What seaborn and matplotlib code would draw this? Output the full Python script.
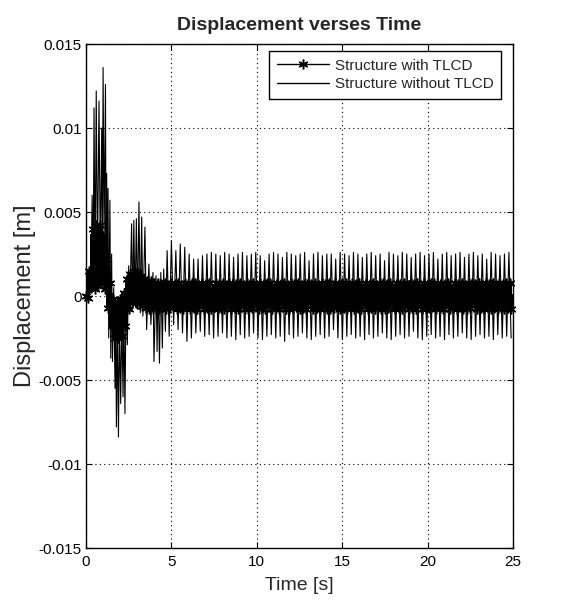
#Displacement of structure with and without TLCD
import numpy as np
import pandas as pd
import seaborn as sns
import matplotlib.pyplot as plt

# values, displacement in units of 1e-4 m

# structure without TLCD - transient part (times of peaks / troughs)
free_t_start = [0.00, 0.08, 0.14, 0.22, 0.28, 0.36, 0.42, 0.47, 0.53, 0.60, 0.67, 0.76, 0.84, 0.92,
                0.96, 1.00, 1.06, 1.14, 1.17, 1.21, 1.25, 1.29, 1.33, 1.40, 1.45, 1.50, 1.55, 1.62,
                1.70, 1.74, 1.78, 1.84, 1.90, 1.96, 2.03, 2.10, 2.17, 2.22, 2.28, 2.35, 2.42, 2.50,
                2.56, 2.67, 2.73, 2.80, 2.87, 2.95, 3.02, 3.10, 3.18, 3.26, 3.33, 3.45, 3.55, 3.68,
                3.80, 3.92, 3.98, 4.10, 4.16, 4.22, 4.30, 4.38, 4.47, 4.55, 4.65, 4.75, 4.87]
free_v_start = [0, 4, -2, 15, 2, 60, 8, 112, 12, 122, 18, 116, 22, 100,
                30, 136, 35, 126, 25, 73, 5, 64, -25, 57, -37, 25, -39, 5,
                -55, -10, -78, -15, -84, -15, -64, -12, -60, -8, -70, 5, -29, 18,
                -10, 43, -8, 45, -5, 46, -8, 56, -10, 47, -12, 41, -20, 19,
                -17, 14, -39, 12, -33, 10, -40, 14, -31, 16, -21, 27, -24]

# structure without TLCD - steady part, one peak and one trough per period
free_t0 = 5.0
free_period = 0.26
free_peaks = [33, 27, 31, 29, 25, 22, 22, 24, 25, 26, 25, 24, 26, 25, 23, 25, 26, 24, 25, 26,
              24, 21, 25, 26, 25, 23, 26, 25, 24, 25, 26, 21, 25, 26, 24, 25, 25, 22, 26, 25,
              24, 26, 25, 23, 25, 26, 24, 25, 21, 26, 25, 24, 26, 25, 23, 25, 26, 24, 25, 26,
              22, 25, 26, 24, 25, 26, 23, 25, 26, 24, 25, 22, 26, 25, 24, 25, 26]
free_troughs = [-17, -20, -22, -27, -25, -22, -21, -24, -23, -25, -24, -22, -25, -24, -26, -23, -25, -24, -22, -25,
                -26, -24, -23, -25, -24, -27, -23, -25, -24, -22, -25, -26, -24, -23, -25, -24, -20, -25, -26, -24,
                -23, -25, -24, -26, -23, -25, -24, -22, -25, -26, -24, -23, -25, -24, -21, -25, -26, -24, -23, -25,
                -24, -26, -23, -25, -24, -22, -25, -26, -24, -23, -25, -24, -26, -23, -25, -24, -25]

# structure with TLCD - upper / lower points of the dense band, every 0.2 s
tlcd_step = 0.2
tlcd_upper = [0, 15, 40, 42, 42, 36, 22, 8, -2, -4, -2, 2, 10, 13, 15, 14, 12, 10, 9,
              9, 8, 8, 7, 8, 6, 8, 7, 8, 5, 8, 7, 8, 8, 6, 8, 7, 8, 4, 8,
              7, 8, 6, 8, 8, 7, 8, 5, 8, 7, 8, 6, 8, 7, 8, 8, 4, 8, 7, 8,
              6, 8, 7, 8, 5, 8, 8, 7, 8, 6, 8, 7, 8, 4, 8, 7, 8, 8, 6, 8,
              7, 8, 5, 8, 7, 8, 6, 8, 8, 7, 8, 4, 8, 7, 8, 6, 8, 7, 8, 5,
              8, 7, 8, 8, 6, 8, 7, 8, 4, 8, 7, 8, 6, 8, 8, 7, 8, 5, 8, 7,
              8, 6, 8, 7, 8, 8]
tlcd_lower = [-1, 5, 4, 6, 8, 4, -7, -18, -25, -25, -24, -18, -8, -4, -4, -5, -6, -7, -8,
              -8, -7, -8, -6, -8, -7, -5, -8, -7, -8, -6, -8, -7, -8, -4, -8, -7, -8, -6, -8,
              -7, -8, -5, -8, -7, -8, -6, -8, -8, -7, -4, -8, -7, -8, -6, -8, -7, -8, -5, -8,
              -8, -7, -6, -8, -7, -8, -4, -8, -7, -8, -6, -8, -8, -7, -5, -8, -7, -8, -6, -8,
              -7, -8, -4, -8, -7, -8, -6, -8, -8, -7, -5, -8, -7, -8, -6, -8, -7, -8, -4, -8,
              -8, -7, -6, -8, -7, -8, -5, -8, -7, -8, -6, -8, -8, -7, -4, -8, -7, -8, -6, -8,
              -7, -8, -5, -8, -7, -8]

x_ticks = [0, 5, 10, 15, 20, 25]
y_ticks = [-0.015, -0.01, -0.005, 0, 0.005, 0.01, 0.015]
y_tick_labels = ['-0.015', '-0.01', '-0.005', '0', '0.005', '0.01', '0.015']

scale = 1e-4

# build series
t_free = list(free_t_start)
v_free = list(free_v_start)
for i in range(len(free_peaks)):
    t_free += [free_t0 + i * free_period, free_t0 + (i + 0.5) * free_period]
    v_free += [free_peaks[i], free_troughs[i]]
free = pd.DataFrame({'t': t_free, 'v': np.array(v_free) * scale})

t_tlcd = []
v_tlcd = []
for i in range(len(tlcd_upper)):
    t_tlcd += [i * tlcd_step, (i + 0.5) * tlcd_step]
    v_tlcd += [tlcd_upper[i], tlcd_lower[i]]
tlcd = pd.DataFrame({'t': t_tlcd, 'v': np.array(v_tlcd) * scale})

#visualization
sns.set_theme(style="white")
plt.rcParams['font.family'] = ['Liberation Sans', 'DejaVu Sans']

fig = plt.figure(figsize=(5.71, 6.07), dpi=100)
ax = fig.add_axes([86 / 571, 1 - 548 / 607, 427 / 571, 504 / 607])

sns.lineplot(x='t', y='v', data=tlcd, ax=ax, color='black', lw=2.4, sort=False, estimator=None,
             marker=(6, 2, 0), markersize=7, markeredgewidth=1.1, markeredgecolor='black',
             label='Structure with TLCD', clip_on=False, antialiased=False)
sns.lineplot(x='t', y='v', data=free, ax=ax, color='black', lw=0.8, sort=False, estimator=None,
             label='Structure without TLCD')

ax.set_xlim(0, 25)
ax.set_ylim(-0.015, 0.015)
ax.set_xticks(x_ticks)
ax.set_xticklabels([str(x) for x in x_ticks])
ax.set_yticks(y_ticks)
ax.set_yticklabels(y_tick_labels)
ax.tick_params(axis='both', direction='in', length=4, width=0.8, colors='black', labelsize=11,
               top=True, right=True, left=True, bottom=True)
ax.tick_params(axis='x', pad=5)
ax.tick_params(axis='y', pad=3)
ax.grid(True, color='black', linestyle=(0, (1, 3)), lw=0.8)
for s in ax.spines.values():
    s.set_color('black')
    s.set_linewidth(1.0)

ax.set_xlabel('Time [s]', fontsize=14, labelpad=6)
ax.set_ylabel('Displacement [m]', fontsize=17, labelpad=2)
ax.set_title('Displacement verses Time', fontsize=14, fontweight='bold', pad=10)

leg = ax.legend(loc='upper right', bbox_to_anchor=(0.972, 0.986), borderaxespad=0,
                fontsize=11, fancybox=False, framealpha=1, edgecolor='black',
                handlelength=3.4, handletextpad=0.4, borderpad=0.5, labelspacing=0.3)
leg.get_frame().set_linewidth(1.0)
for h in leg.legend_handles:
    h.set_linewidth(1.0)
    h.set_antialiased(True)

plt.savefig('out.png', dpi=100)
